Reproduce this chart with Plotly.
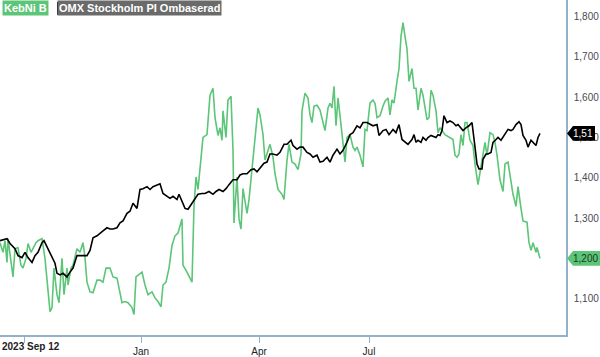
import plotly.graph_objects as go

# ---- data (time position along the chart's session axis, value) ----
green_t = [0, 3, 5, 7, 8, 10, 13, 15, 18, 21, 23, 26, 28, 31, 33, 36, 38, 42, 45, 48, 50, 52, 54, 57, 59, 62, 64, 67, 68, 71, 73, 77, 80, 83, 85, 87, 90, 93, 97, 100, 103, 106, 110, 113, 117, 119, 122, 125, 128, 132, 134, 136, 139, 142, 145, 148, 152, 155, 158, 161, 163, 166, 169, 172, 175, 178, 182, 183, 187, 190, 192, 194, 196, 198, 201, 203, 207, 210, 213, 215, 218, 220, 222, 223, 226, 228, 231, 233, 234, 237, 239, 241, 243, 247, 249, 252, 255, 258, 260, 263, 265, 267, 270, 273, 275, 278, 282, 284, 287, 289, 292, 295, 298, 301, 302, 305, 308, 310, 312, 314, 317, 320, 323, 325, 328, 330, 332, 334, 336, 338, 341, 343, 345, 347, 350, 353, 355, 357, 360, 363, 365, 367, 370, 373, 375, 377, 380, 383, 385, 388, 390, 392, 394, 397, 399, 401, 403, 405, 407, 409, 412, 414, 416, 418, 421, 423, 425, 427, 429, 431, 433, 436, 438, 440, 445, 450, 453, 455, 457, 459, 461, 463, 465, 467, 470, 473, 475, 478, 480, 483, 485, 487, 490, 493, 495, 497, 500, 503, 505, 508, 511, 513, 516, 518, 521, 523, 527, 529, 531, 533, 536, 537, 540]
green_v = [1239, 1215, 1244, 1190, 1249, 1207, 1154, 1224, 1227, 1183, 1176, 1200, 1237, 1215, 1224, 1239, 1244, 1249, 1200, 1110, 1068, 1078, 1176, 1110, 1090, 1200, 1110, 1176, 1134, 1176, 1183, 1224, 1215, 1239, 1202, 1141, 1117, 1115, 1146, 1146, 1141, 1176, 1176, 1154, 1151, 1127, 1090, 1093, 1090, 1078, 1061, 1154, 1159, 1166, 1134, 1110, 1117, 1102, 1093, 1080, 1134, 1141, 1176, 1232, 1256, 1263, 1298, 1183, 1166, 1151, 1141, 1329, 1402, 1371, 1451, 1500, 1507, 1605, 1622, 1549, 1505, 1524, 1493, 1566, 1500, 1593, 1602, 1468, 1288, 1402, 1298, 1273, 1373, 1312, 1346, 1422, 1507, 1573, 1556, 1507, 1444, 1459, 1483, 1451, 1410, 1371, 1359, 1346, 1444, 1483, 1439, 1434, 1420, 1459, 1566, 1610, 1598, 1556, 1537, 1578, 1580, 1568, 1541, 1517, 1573, 1585, 1573, 1627, 1529, 1598, 1532, 1483, 1439, 1500, 1507, 1476, 1468, 1476, 1456, 1427, 1520, 1517, 1585, 1593, 1585, 1549, 1554, 1578, 1590, 1598, 1556, 1593, 1585, 1639, 1671, 1751, 1785, 1751, 1720, 1639, 1671, 1622, 1622, 1568, 1622, 1605, 1573, 1544, 1549, 1617, 1605, 1566, 1512, 1524, 1507, 1500, 1495, 1456, 1451, 1459, 1507, 1480, 1537, 1537, 1493, 1480, 1434, 1383, 1415, 1456, 1488, 1456, 1512, 1507, 1488, 1456, 1395, 1366, 1434, 1439, 1385, 1359, 1329, 1378, 1324, 1293, 1290, 1239, 1220, 1239, 1215, 1227, 1200]

black_t = [0, 7, 10, 15, 18, 22, 25, 28, 32, 35, 38, 42, 44, 48, 52, 55, 57, 60, 63, 67, 70, 73, 77, 80, 83, 87, 90, 93, 97, 100, 103, 107, 110, 113, 117, 120, 123, 127, 130, 133, 137, 140, 143, 147, 150, 153, 157, 160, 163, 167, 170, 173, 177, 179, 183, 185, 188, 192, 195, 198, 202, 205, 209, 213, 216, 219, 223, 226, 229, 233, 237, 240, 243, 247, 251, 254, 257, 261, 264, 267, 270, 273, 277, 280, 284, 287, 291, 293, 297, 300, 303, 307, 310, 313, 317, 320, 323, 327, 330, 333, 337, 340, 343, 347, 350, 353, 357, 360, 363, 367, 370, 373, 377, 379, 383, 386, 389, 393, 396, 399, 402, 405, 408, 412, 414, 416, 418, 421, 423, 426, 428, 431, 433, 436, 438, 440, 442, 444, 447, 450, 453, 456, 458, 461, 463, 466, 469, 472, 473, 475, 477, 479, 482, 483, 486, 488, 491, 493, 496, 498, 501, 503, 506, 508, 511, 513, 516, 519, 521, 523, 526, 528, 531, 533, 536, 538, 540]
black_v = [1244, 1249, 1237, 1224, 1207, 1202, 1215, 1202, 1190, 1207, 1215, 1239, 1244, 1224, 1202, 1188, 1163, 1159, 1163, 1154, 1166, 1176, 1207, 1207, 1207, 1207, 1220, 1251, 1256, 1263, 1268, 1276, 1273, 1273, 1276, 1288, 1293, 1312, 1317, 1337, 1324, 1371, 1373, 1378, 1371, 1378, 1383, 1385, 1361, 1354, 1349, 1354, 1346, 1359, 1337, 1324, 1322, 1337, 1346, 1359, 1361, 1361, 1366, 1359, 1366, 1371, 1366, 1373, 1383, 1395, 1395, 1407, 1410, 1410, 1420, 1422, 1415, 1427, 1436, 1439, 1459, 1459, 1456, 1463, 1483, 1483, 1493, 1480, 1471, 1476, 1476, 1463, 1459, 1451, 1456, 1439, 1441, 1451, 1439, 1456, 1471, 1459, 1468, 1488, 1507, 1512, 1529, 1524, 1537, 1537, 1532, 1529, 1532, 1505, 1517, 1520, 1507, 1520, 1512, 1532, 1495, 1488, 1483, 1495, 1507, 1488, 1493, 1488, 1500, 1493, 1500, 1505, 1503, 1500, 1507, 1505, 1517, 1554, 1537, 1541, 1537, 1529, 1532, 1524, 1517, 1524, 1529, 1537, 1520, 1476, 1434, 1422, 1422, 1446, 1459, 1459, 1463, 1488, 1495, 1500, 1493, 1500, 1510, 1520, 1517, 1520, 1532, 1539, 1532, 1505, 1493, 1476, 1493, 1488, 1480, 1500, 1510]

series_names = ["KebNi B", "OMX Stockholm PI Ombaserad"]
tag_labels = ["1,200", "1,51"]

x_tick_pos = [24, 141, 259, 369]
x_tick_text = ["", "Jan", "Apr", "Jul"]
first_tick_label = "2023 Sep 12"
y_ticks = [1100, 1200, 1300, 1400, 1500, 1600, 1700, 1800]

GREEN = "#5cc577"
BLACK = "#000000"
AXIS = "#93b1c9"
FONT = "Liberation Sans, Arial"

W, H = 600, 357
ML, MR, MT, MB = 0, 34, 0, 16
PW, PH = W - ML - MR, H - MT - MB
Y_RANGE = [1010, 1841]
X_RANGE = [0, 566]

fig = go.Figure()
fig.add_trace(go.Scatter(x=green_t, y=green_v, mode="lines", name=series_names[0],
                         line=dict(color=GREEN, width=1.6), showlegend=False))
fig.add_trace(go.Scatter(x=black_t, y=black_v, mode="lines", name=series_names[1],
                         line=dict(color=BLACK, width=1.6), showlegend=False))

units_per_px = (Y_RANGE[1] - Y_RANGE[0]) / PH

def px_x(p):  # horizontal pixel -> paper coordinate
    return (p - ML) / PW

def px_y(p):  # vertical pixel from top -> paper
    return 1 - (p - MT) / PH

shapes = []
annotations = []

# price tags on the right axis
for val, lab, fill, txtcol, right in [
    (green_v[-1], tag_labels[0], GREEN, "#1a3a22", 600),
    (black_v[-1], tag_labels[1], BLACK, "#ffffff", 595),
]:
    hh = 7.5 * units_per_px
    x0, x1, x2 = px_x(567), px_x(573), px_x(right)
    path = (f"M {x0},{val} L {x1},{val + hh} L {x2},{val + hh} "
            f"L {x2},{val - hh} L {x1},{val - hh} Z")
    shapes.append(dict(type="path", xref="paper", yref="y", path=path,
                       fillcolor=fill, line=dict(width=0), layer="above"))
    annotations.append(dict(x=px_x(571), y=val, xref="paper", yref="y",
                            text=lab, showarrow=False, xanchor="left", yanchor="middle",
                            font=dict(family=FONT, size=10, color=txtcol)))

# legend chips at top-left
shapes.append(dict(type="rect", xref="paper", yref="paper",
                   x0=px_x(57), x1=px_x(215), y0=px_y(15), y1=px_y(2),
                   fillcolor="#111111", line=dict(width=0), layer="above"))
annotations.append(dict(x=px_x(2), y=px_y(0), xref="paper", yref="paper",
                        text=f"<b>{series_names[0]}</b>", showarrow=False,
                        xanchor="left", yanchor="top", bgcolor=GREEN, borderpad=1,
                        font=dict(family=FONT, size=11, color="white")))
annotations.append(dict(x=px_x(57), y=px_y(0), xref="paper", yref="paper",
                        text=f"<b>{series_names[1]}</b>", showarrow=False,
                        xanchor="left", yanchor="top", bgcolor="#6a6a6a", borderpad=1,
                        font=dict(family=FONT, size=11, color="white")))

# first date label, left-aligned at chart edge
annotations.append(dict(x=0, y=px_y(345), xref="x", yref="paper",
                        text=f"<b>{first_tick_label}</b>", showarrow=False,
                        xanchor="left", yanchor="top",
                        font=dict(family=FONT, size=10, color="#222222")))

fig.update_layout(
    width=W, height=H,
    margin=dict(l=ML, r=MR, t=MT, b=MB, pad=0),
    paper_bgcolor="white", plot_bgcolor="white",
    shapes=shapes, annotations=annotations,
    xaxis=dict(range=X_RANGE, tickvals=x_tick_pos, ticktext=x_tick_text,
               showgrid=False, zeroline=False, showline=True, linecolor=AXIS, linewidth=1.5,
               ticks="outside", ticklen=6, tickcolor=AXIS, tickwidth=1,
               tickfont=dict(family=FONT, size=10, color="#222222"),
               tickprefix="<b>", ticksuffix="</b>", fixedrange=True),
    yaxis=dict(range=Y_RANGE, side="right", tickvals=y_ticks, tickformat=",",
               showgrid=False, zeroline=False, showline=True, linecolor=AXIS, linewidth=1.5,
               ticks="outside", ticklen=4, tickcolor="rgba(0,0,0,0)",
               tickfont=dict(family=FONT, size=10, color="#4a4a55"),
               fixedrange=True),
)

fig.write_html("out.html", config={"displayModeBar": False},
               post_script="document.body.style.margin='0';document.body.style.overflow='hidden';")
